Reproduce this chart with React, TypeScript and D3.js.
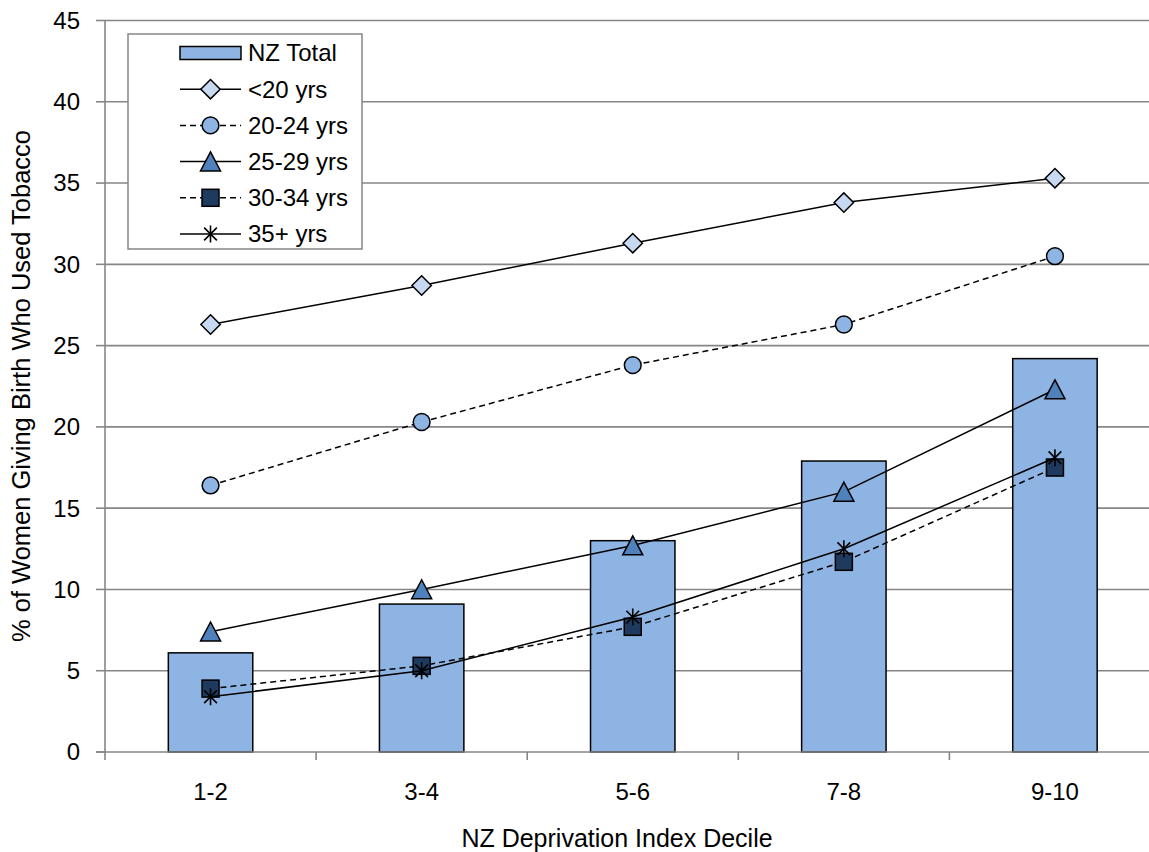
import React from "react";
import * as d3 from "d3";

const categories = ["1-2", "3-4", "5-6", "7-8", "9-10"];
const nzTotal = [6.1, 9.1, 13.0, 17.9, 24.2];
const under20 = [26.3, 28.7, 31.3, 33.8, 35.3];
const age2024 = [16.4, 20.3, 23.8, 26.3, 30.5];
const age2529 = [7.4, 10.0, 12.7, 16.0, 22.3];
const age3034 = [3.9, 5.3, 7.7, 11.7, 17.5];
const age35 = [3.4, 5.0, 8.3, 12.5, 18.1];
const yTicks = [0, 5, 10, 15, 20, 25, 30, 35, 40, 45];

const W = 1149, H = 852;
const left = 105, right = 1160.5, top = 20.5, bottom = 752;
const FONT = "'Liberation Sans', Arial, sans-serif";

type Series = { name: string; values: number[]; dash: boolean; marker: string; fill: string };
const series: Series[] = [
  { name: "<20 yrs", values: under20, dash: false, marker: "diamond", fill: "#C6D9F1" },
  { name: "20-24 yrs", values: age2024, dash: true, marker: "circle", fill: "#8EB4E3" },
  { name: "25-29 yrs", values: age2529, dash: false, marker: "triangle", fill: "#4F81BD" },
  { name: "30-34 yrs", values: age3034, dash: true, marker: "square", fill: "#1F3A5F" },
  { name: "35+ yrs", values: age35, dash: false, marker: "star", fill: "none" },
];

function Marker({ type, x, y, fill }: { type: string; x: number; y: number; fill: string }) {
  const sw = 1.5;
  if (type === "diamond") {
    const r = 9.7;
    return <path d={`M${x},${y - r}L${x + r},${y}L${x},${y + r}L${x - r},${y}Z`} fill={fill} stroke="#000" strokeWidth={sw} />;
  }
  if (type === "circle") return <circle cx={x} cy={y} r={8.4} fill={fill} stroke="#000" strokeWidth={sw} />;
  if (type === "triangle") {
    return <path d={`M${x},${y - 9.7}L${x + 10},${y + 9.3}L${x - 10},${y + 9.3}Z`} fill={fill} stroke="#000" strokeWidth={sw} />;
  }
  if (type === "square") return <rect x={x - 8.5} y={y - 8.5} width={17} height={17} fill={fill} stroke="#000" strokeWidth={sw} />;
  const r = 8.5;
  const d = r * 0.75;
  return (
    <path
      d={`M${x},${y - r}L${x},${y + r}M${x - d},${y - d}L${x + d},${y + d}M${x - d},${y + d}L${x + d},${y - d}`}
      stroke="#000"
      strokeWidth={1.6}
      fill="none"
    />
  );
}

export default function App() {
  const x = d3.scaleBand<string>().domain(categories).range([left, right]).paddingInner(0.6).paddingOuter(0.3);
  const xc = (c: string) => (x(c) as number) + x.bandwidth() / 2;
  const y = d3.scaleLinear().domain([0, 45]).range([bottom, top]);
  const line = d3.line<number>().x((_, i) => xc(categories[i])).y((v) => y(v));
  const step = (right - left) / categories.length;

  const legX = 128, legY = 34, legW = 234, legH = 215;
  const rowY = (i: number) => legY + 19 + i * 36.2;

  return (
    <svg width={W} height={H} style={{ position: "absolute", left: 0, top: 0, display: "block" }} fontFamily={FONT}>
      <rect width={W} height={H} fill="#fff" />
      {yTicks.map((t) => (
        <g key={t}>
          {t > 0 && <line x1={left} x2={right} y1={y(t)} y2={y(t)} stroke="#868686" strokeWidth={1.6} />}
          <line x1={96} x2={left} y1={y(t)} y2={y(t)} stroke="#868686" strokeWidth={1.6} />
          <text x={80} y={y(t)} dy="0.35em" textAnchor="end" fontSize={24} fill="#000">
            {t}
          </text>
        </g>
      ))}
      {nzTotal.map((v, i) => (
        <rect
          key={i}
          x={x(categories[i])}
          y={y(v)}
          width={x.bandwidth()}
          height={bottom - y(v)}
          fill="#8EB4E3"
          stroke="#000"
          strokeWidth={1.5}
        />
      ))}
      <line x1={left} x2={left} y1={top} y2={bottom + 8} stroke="#868686" strokeWidth={1.6} />
      <line x1={96} x2={right} y1={bottom} y2={bottom} stroke="#868686" strokeWidth={1.6} />
      {categories.map((c, i) => (
        <g key={c}>
          <line x1={left + step * (i + 1)} x2={left + step * (i + 1)} y1={bottom} y2={bottom + 8} stroke="#868686" strokeWidth={1.6} />
          <text x={xc(c)} y={800} textAnchor="middle" fontSize={24} fill="#000">
            {c}
          </text>
        </g>
      ))}
      {series.map((s) => (
        <g key={s.name}>
          <path
            d={line(s.values) as string}
            fill="none"
            stroke="#000"
            strokeWidth={1.5}
            strokeDasharray={s.dash ? "6,4" : undefined}
          />
          {s.values.map((v, i) => (
            <Marker key={i} type={s.marker} x={xc(categories[i])} y={y(v)} fill={s.fill} />
          ))}
        </g>
      ))}
      <text x={617} y={847} textAnchor="middle" fontSize={25} fill="#000">
        NZ Deprivation Index Decile
      </text>
      <text
        transform={`translate(21,386) rotate(-90)`}
        dy="0.35em"
        textAnchor="middle"
        fontSize={25.5}
        fill="#000"
      >
        % of Women Giving Birth Who Used Tobacco
      </text>
      <g>
        <rect x={legX} y={legY} width={legW} height={legH} fill="#fff" stroke="#868686" strokeWidth={1.5} />
        <rect x={180} y={rowY(0) - 6.5} width={61} height={13} fill="#8EB4E3" stroke="#000" strokeWidth={1.5} />
        <text x={248} y={rowY(0)} dy="0.35em" fontSize={24} fill="#000">
          NZ Total
        </text>
        {series.map((s, i) => (
          <g key={s.name}>
            <line
              x1={180}
              x2={241}
              y1={rowY(i + 1)}
              y2={rowY(i + 1)}
              stroke="#000"
              strokeWidth={1.5}
              strokeDasharray={s.dash ? "6,4" : undefined}
            />
            <Marker type={s.marker} x={210.5} y={rowY(i + 1)} fill={s.fill} />
            <text x={248} y={rowY(i + 1)} dy="0.35em" fontSize={24} fill="#000">
              {s.name}
            </text>
          </g>
        ))}
      </g>
    </svg>
  );
}
